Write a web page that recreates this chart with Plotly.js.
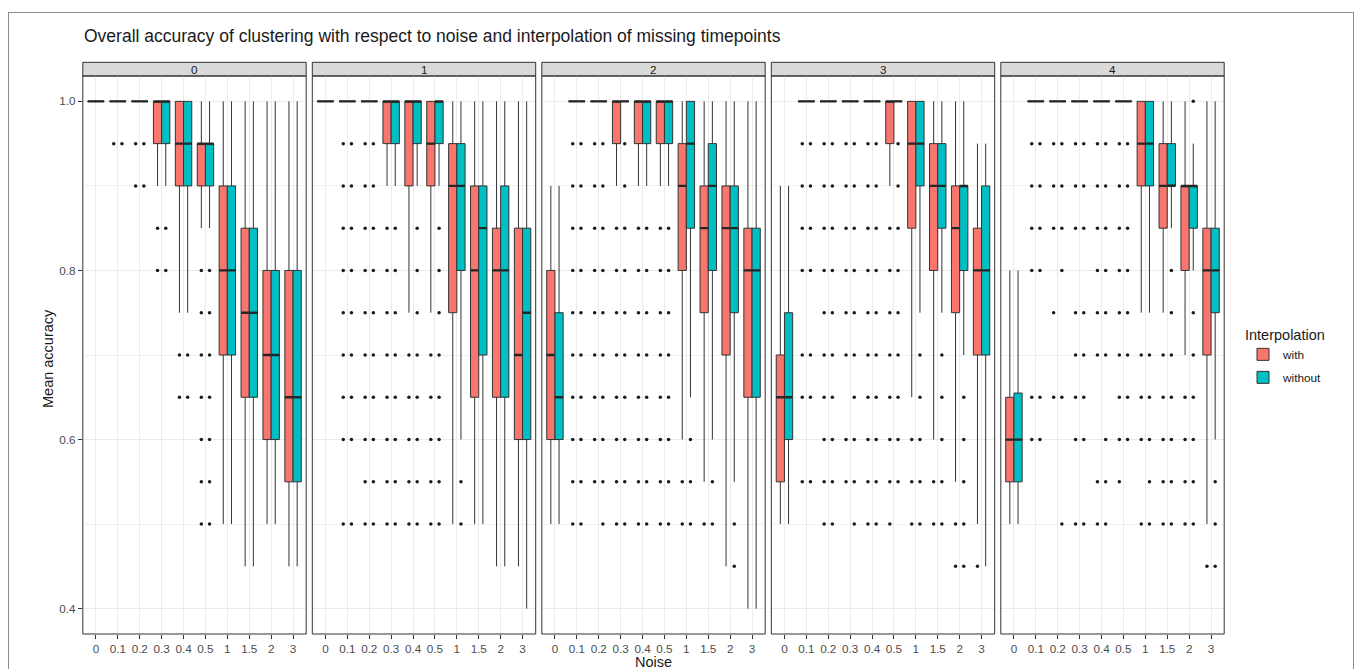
<!DOCTYPE html>
<html>
<head>
<meta charset="utf-8">
<script src="https://cdn.plot.ly/plotly-3.0.1.min.js"></script>
<style>
html,body{margin:0;padding:0;background:#fff;overflow:hidden}
#chart{width:1355px;height:669px;position:absolute;left:0;top:0}
#frame{position:absolute;left:8px;top:12px;width:1344px;height:700px;border:1px solid #8c8c8c;pointer-events:none}
</style>
</head>
<body>
<div id="chart"></div>
<div id="frame"></div>
<script>
// ---------------- data ----------------
const noiseLevels = ['0','0.1','0.2','0.3','0.4','0.5','1','1.5','2','3'];
const facets = ['0','1','2','3','4'];
const groupNames = ['with','without'];
const groupColors = ['#F8766D','#00BFC4'];

// rows = facet 0..4, columns = noise levels
const q1With = [
  [1,1,1,0.95,0.9,0.9,0.7,0.65,0.6,0.55],
  [1,1,1,0.95,0.9,0.9,0.75,0.65,0.65,0.6],
  [0.6,1,1,0.95,0.95,0.95,0.8,0.75,0.7,0.65],
  [0.55,1,1,1,1,0.95,0.85,0.8,0.75,0.7],
  [0.55,1,1,1,1,1,0.9,0.85,0.8,0.7]
];
const medianWith = [
  [1,1,1,1,0.95,0.95,0.8,0.75,0.7,0.65],
  [1,1,1,1,1,0.95,0.9,0.8,0.8,0.7],
  [0.7,1,1,1,1,1,0.9,0.85,0.85,0.8],
  [0.65,1,1,1,1,1,0.95,0.9,0.85,0.8],
  [0.6,1,1,1,1,1,0.95,0.9,0.9,0.8]
];
const q3With = [
  [1,1,1,1,1,0.95,0.9,0.85,0.8,0.8],
  [1,1,1,1,1,1,0.95,0.9,0.85,0.85],
  [0.8,1,1,1,1,1,0.95,0.9,0.9,0.85],
  [0.7,1,1,1,1,1,1,0.95,0.9,0.85],
  [0.65,1,1,1,1,1,1,0.95,0.9,0.85]
];
const lowerWith = [
  [1,1,1,0.9,0.75,0.85,0.5,0.45,0.5,0.45],
  [1,1,1,0.9,0.75,0.75,0.5,0.5,0.45,0.45],
  [0.5,1,1,0.9,0.9,0.9,0.6,0.55,0.45,0.4],
  [0.5,1,1,1,1,0.9,0.65,0.6,0.55,0.5],
  [0.5,1,1,1,1,1,0.75,0.75,0.7,0.5]
];
const upperWith = [
  [1,1,1,1,1,1,1,1,1,1],
  [1,1,1,1,1,1,1,1,1,1],
  [0.9,1,1,1,1,1,1,1,1,1],
  [0.9,1,1,1,1,1,1,1,1,0.95],
  [0.8,1,1,1,1,1,1,1,1,1]
];
const outliersWith = [
  [[],[0.95],[0.95,0.9],[0.85,0.8],[0.7,0.65],[0.8,0.75,0.7,0.65,0.6,0.55,0.5],[],[],[],[]],
  [[],[0.95,0.9,0.85,0.8,0.75,0.7,0.65,0.6,0.5],[0.95,0.9,0.85,0.8,0.75,0.7,0.65,0.6,0.55,0.5],
   [0.85,0.8,0.75,0.7,0.65,0.6,0.55,0.5],[0.7,0.65,0.6,0.55,0.5],[0.7,0.65,0.6,0.55,0.5],[],[],[],[]],
  [[],[0.95,0.9,0.85,0.8,0.75,0.7,0.65,0.6,0.55,0.5],[0.95,0.9,0.85,0.8,0.75,0.7,0.65,0.6,0.55],
   [0.85,0.8,0.75,0.7,0.65,0.6,0.55,0.5],[0.85,0.8,0.75,0.7,0.65,0.6,0.55,0.5],[0.85,0.8,0.75,0.7,0.65,0.6,0.55,0.5],
   [0.55,0.5],[0.5],[],[]],
  [[],[0.95,0.9,0.85,0.8,0.7,0.65,0.55],[0.95,0.9,0.85,0.8,0.75,0.7,0.65,0.6,0.55,0.5],
   [0.95,0.9,0.85,0.8,0.75,0.7,0.6,0.55],[0.95,0.9,0.85,0.8,0.75,0.7,0.65,0.6,0.55,0.5],
   [0.85,0.8,0.75,0.7,0.65,0.6,0.55,0.5],[0.6,0.55,0.5],[0.55,0.5],[0.5,0.45],[0.45]],
  [[],[0.95,0.9,0.85,0.8,0.65,0.6],[0.95,0.9,0.85,0.75,0.65],[0.95,0.9,0.85,0.75,0.7,0.65,0.6,0.5],
   [0.95,0.9,0.85,0.8,0.75,0.7,0.55,0.5],[0.95,0.9,0.85,0.8,0.75,0.7,0.65,0.6,0.55],
   [0.7,0.65,0.6,0.5],[0.7,0.65,0.6,0.55,0.5],[0.65,0.6,0.55,0.5],[0.45]]
];

const q1Without = [
  [1,1,1,0.95,0.9,0.9,0.7,0.65,0.6,0.55],
  [1,1,1,0.95,0.95,0.95,0.8,0.7,0.65,0.6],
  [0.6,1,1,1,0.95,0.95,0.85,0.8,0.75,0.65],
  [0.6,1,1,1,1,1,0.9,0.85,0.8,0.7],
  [0.55,1,1,1,1,1,0.9,0.9,0.85,0.75]
];
const medianWithout = [
  [1,1,1,1,0.95,0.95,0.8,0.75,0.7,0.65],
  [1,1,1,1,1,1,0.9,0.85,0.8,0.75],
  [0.65,1,1,1,1,1,0.95,0.9,0.85,0.8],
  [0.65,1,1,1,1,1,0.95,0.9,0.9,0.8],
  [0.6,1,1,1,1,1,0.95,0.9,0.9,0.8]
];
const q3Without = [
  [1,1,1,1,1,0.95,0.9,0.85,0.8,0.8],
  [1,1,1,1,1,1,0.95,0.9,0.9,0.85],
  [0.75,1,1,1,1,1,1,0.95,0.9,0.85],
  [0.75,1,1,1,1,1,1,0.95,0.9,0.9],
  [0.655,1,1,1,1,1,1,0.95,0.9,0.85]
];
const lowerWithout = [
  [1,1,1,0.9,0.75,0.85,0.5,0.45,0.5,0.45],
  [1,1,1,0.9,0.9,0.9,0.6,0.5,0.45,0.4],
  [0.5,1,1,1,0.9,0.9,0.65,0.6,0.55,0.4],
  [0.5,1,1,1,1,1,0.75,0.75,0.7,0.45],
  [0.5,1,1,1,1,1,0.75,0.85,0.8,0.6]
];
const upperWithout = [
  [1,1,1,1,1,1,1,1,1,1],
  [1,1,1,1,1,1,1,1,1,1],
  [0.9,1,1,1,1,1,1,1,1,1],
  [0.9,1,1,1,1,1,1,1,1,0.95],
  [0.8,1,1,1,1,1,1,1,0.95,1]
];
const outliersWithout = [
  [[],[0.95],[0.95,0.9],[0.85,0.8],[0.7,0.65],[0.8,0.75,0.7,0.65,0.6,0.55,0.5],[],[],[],[]],
  [[],[0.95,0.9,0.85,0.8,0.75,0.7,0.65,0.6,0.5],[0.95,0.9,0.85,0.8,0.75,0.7,0.65,0.6,0.55,0.5],
   [0.85,0.8,0.75,0.7,0.65,0.6,0.55,0.5],[0.85,0.8,0.75,0.7,0.65,0.6,0.55,0.5],[0.85,0.8,0.75,0.7,0.65,0.6,0.55,0.5],
   [0.55,0.5],[],[],[]],
  [[],[0.95,0.9,0.85,0.8,0.75,0.7,0.65,0.6,0.55,0.5],[0.95,0.9,0.85,0.8,0.75,0.7,0.65,0.6,0.55,0.5],
   [0.95,0.9,0.85,0.8,0.75,0.7,0.65,0.6,0.55,0.5],[0.85,0.8,0.75,0.7,0.65,0.6,0.55,0.5],[0.85,0.8,0.75,0.7,0.65,0.6,0.55,0.5],
   [0.6,0.55,0.5],[0.55,0.5],[0.5,0.45],[]],
  [[],[0.95,0.9,0.85,0.8,0.7,0.65,0.55],[0.95,0.9,0.85,0.8,0.75,0.7,0.65,0.6,0.55,0.5],
   [0.95,0.9,0.85,0.8,0.75,0.7,0.65,0.6,0.55,0.5],[0.95,0.9,0.85,0.8,0.75,0.7,0.65,0.6,0.55,0.5],
   [0.95,0.9,0.85,0.8,0.75,0.7,0.65,0.6,0.55],[0.7,0.65,0.6,0.55,0.5],[0.7,0.65,0.6,0.55,0.5],
   [0.65,0.6,0.55,0.5,0.45],[]],
  [[],[0.95,0.9,0.85,0.8,0.65,0.6],[0.95,0.9,0.85,0.8,0.65,0.5],[0.95,0.9,0.85,0.75,0.7,0.65,0.6,0.5],
   [0.95,0.9,0.85,0.8,0.75,0.7,0.6,0.55,0.5],[0.95,0.9,0.85,0.8,0.75,0.7,0.65,0.6],
   [0.7,0.65,0.6,0.55,0.5],[0.8,0.75,0.7,0.65,0.6,0.55,0.5],[1.0,0.75,0.7,0.65,0.6,0.55,0.5],[0.55,0.5,0.45]]
];

const yTickVals = [0.4, 0.6, 0.8, 1.0];
const yTickText = ['0.4', '0.6', '0.8', '1.0'];
const yMinorVals = [0.5, 0.7, 0.9];

// ---------------- layout helpers ----------------
const W = 1355, H = 669;
const FONT = '"Liberation Sans", Arial, Helvetica, sans-serif';
const px = v => v / W;
const py = v => 1 - v / H;
const panelLeft0 = 82.8, panelStep = 229.5, panelWidth = 223.4;
const panelTop = 76, panelBottom = 634, stripTop = 62.3;

const statsByGroup = [
  {q1: q1With, med: medianWith, q3: q3With, lo: lowerWith, up: upperWith, out: outliersWith},
  {q1: q1Without, med: medianWithout, q3: q3Without, lo: lowerWithout, up: upperWithout, out: outliersWithout}
];
// Plotly needs a non-empty sample row; [null] stands for "no outliers" and draws nothing
const sampleRows = rows => rows.map(r => (r.length ? r : [null]));

const traces = [];
const shapes = [];
const annotations = [];
const layout = {
  width: W, height: H,
  margin: {l: 0, r: 0, t: 0, b: 0},
  paper_bgcolor: '#FFFFFF',
  plot_bgcolor: '#FFFFFF',
  font: {family: FONT, color: '#1A1A1A', size: 11.5},
  boxmode: 'group',
  boxgap: 0.25,
  boxgroupgap: 0,
  showlegend: true,
  title: {
    text: 'Overall accuracy of clustering with respect to noise and interpolation of missing timepoints',
    xref: 'container', yref: 'container',
    x: px(84), xanchor: 'left',
    y: py(36), yanchor: 'middle',
    font: {family: FONT, size: 17.5, color: '#1A1A1A'}
  },
  legend: {
    x: px(1243), xanchor: 'left',
    y: py(321), yanchor: 'top',
    bgcolor: 'rgba(0,0,0,0)',
    font: {family: FONT, size: 11.8, color: '#1A1A1A'},
    title: {text: 'Interpolation', font: {family: FONT, size: 14.5, color: '#1A1A1A'}},
    tracegroupgap: 4
  },
  yaxis: {
    domain: [py(panelBottom), py(panelTop)],
    range: [0.37, 1.03],
    anchor: 'x',
    tickmode: 'array', tickvals: yTickVals, ticktext: yTickText,
    ticks: 'outside', ticklen: 4, tickcolor: '#333333', tickwidth: 1,
    tickfont: {family: FONT, size: 11.7, color: '#4D4D4D'},
    showgrid: true, gridcolor: '#EBEBEB', gridwidth: 1,
    minor: {tickmode: 'array', tickvals: yMinorVals, showgrid: true, gridcolor: '#F1F1F1', gridwidth: 1, ticks: ''},
    zeroline: false, showline: false
  },
  shapes: shapes,
  annotations: annotations
};

facets.forEach((facet, i) => {
  const axId = i === 0 ? 'x' : 'x' + (i + 1);
  const axKey = i === 0 ? 'xaxis' : 'xaxis' + (i + 1);
  const left = panelLeft0 + i * panelStep;
  layout[axKey] = {
    domain: [px(left), px(left + panelWidth)],
    anchor: 'y',
    type: 'category',
    categoryorder: 'array', categoryarray: noiseLevels,
    range: [-0.6, 9.6],
    ticks: 'outside', ticklen: 4, tickcolor: '#333333', tickwidth: 1,
    tickfont: {family: FONT, size: 11.7, color: '#4D4D4D'},
    showgrid: true, gridcolor: '#EBEBEB', gridwidth: 1,
    zeroline: false, showline: false
  };
  groupNames.forEach((g, k) => {
    const s = statsByGroup[k];
    // box, whiskers and outliers
    traces.push({
      type: 'box',
      name: g,
      legendgroup: g,
      offsetgroup: g,
      showlegend: i === 0,
      xaxis: axId, yaxis: 'y',
      x: noiseLevels,
      q1: s.q1[i], median: s.med[i], q3: s.q3[i],
      lowerfence: s.lo[i], upperfence: s.up[i],
      y: sampleRows(s.out[i]),
      boxpoints: 'outliers', pointpos: 0, jitter: 0,
      whiskerwidth: 0,
      fillcolor: groupColors[k],
      line: {color: '#333333', width: 1},
      marker: {color: '#1A1A1A', size: 3.5},
      hoverinfo: 'skip'
    });
    // thicker median bar (ggplot's fattened median line)
    traces.push({
      type: 'box',
      name: g + ' median',
      legendgroup: g,
      offsetgroup: g,
      showlegend: false,
      xaxis: axId, yaxis: 'y',
      x: noiseLevels,
      q1: s.med[i], median: s.med[i], q3: s.med[i],
      lowerfence: s.med[i], upperfence: s.med[i],
      boxpoints: false,
      whiskerwidth: 0,
      fillcolor: 'rgba(0,0,0,0)',
      line: {color: '#262626', width: 2.3},
      hoverinfo: 'skip'
    });
  });
  // panel border
  shapes.push({type: 'rect', xref: axId + ' domain', yref: 'y domain', x0: 0, x1: 1, y0: 0, y1: 1,
    line: {color: '#333333', width: 1}, fillcolor: 'rgba(0,0,0,0)', layer: 'above'});
  // facet strip
  shapes.push({type: 'rect', xref: axId + ' domain', yref: 'paper', x0: 0, x1: 1,
    y0: py(panelTop), y1: py(stripTop),
    line: {color: '#333333', width: 1}, fillcolor: '#D9D9D9', layer: 'below'});
  annotations.push({xref: axId + ' domain', yref: 'paper', x: 0.5, y: py((panelTop + stripTop) / 2),
    xanchor: 'center', yanchor: 'middle', showarrow: false, text: facet,
    font: {family: FONT, size: 11.7, color: '#1A1A1A'}});
});

// axis titles
annotations.push({xref: 'paper', yref: 'paper', x: px((panelLeft0 + panelLeft0 + 4 * panelStep + panelWidth) / 2), y: py(661.5),
  xanchor: 'center', yanchor: 'middle', showarrow: false, text: 'Noise',
  font: {family: FONT, size: 14.5, color: '#1A1A1A'}});
annotations.push({xref: 'paper', yref: 'paper', x: px(48), y: py(359),
  xanchor: 'center', yanchor: 'middle', showarrow: false, text: 'Mean accuracy', textangle: -90,
  font: {family: FONT, size: 14.5, color: '#1A1A1A'}});

Plotly.newPlot('chart', traces, layout, {displayModeBar: false});
</script>
</body>
</html>
